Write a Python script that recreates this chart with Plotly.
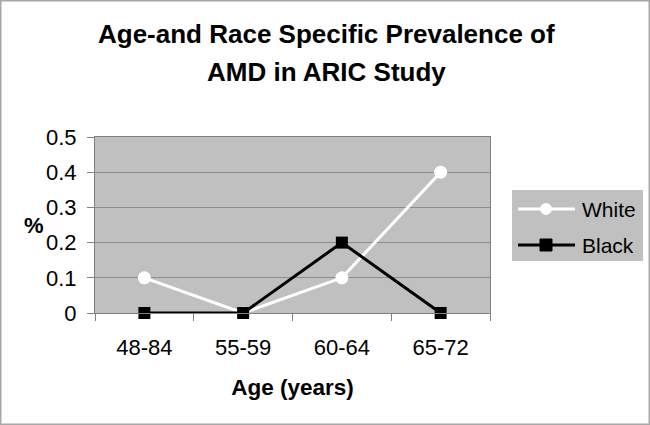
import plotly.graph_objects as go

categories = ["48-84", "55-59", "60-64", "65-72"]
white_values = [0.1, 0.0, 0.1, 0.4]
black_values = [0.0, 0.0, 0.2, 0.0]
series_names = ["White", "Black"]
y_ticks = [0, 0.1, 0.2, 0.3, 0.4, 0.5]
y_tick_labels = ["0", "0.1", "0.2", "0.3", "0.4", "0.5"]
title_lines = ["Age-and Race Specific Prevalence of", "AMD in ARIC Study"]

W, H = 650, 425
L, R, T, B = 95, 160, 137, 112
pw, ph = W - L - R, H - T - B

def px(xp):
    return (xp - L) / pw

def py(yp):
    return (H - B - yp) / ph

font = "Liberation Sans, Arial, sans-serif"

styles = [
    dict(line=dict(color="white", width=3),
         marker=dict(symbol="circle", size=13, color="white")),
    dict(line=dict(color="black", width=3),
         marker=dict(symbol="square", size=12, color="black")),
]

fig = go.Figure()
for name, vals, st in zip(series_names, [white_values, black_values], styles):
    fig.add_trace(go.Scatter(
        x=categories, y=vals, name=name, mode="lines+markers",
        line=st["line"], marker=st["marker"], cliponaxis=False,
        showlegend=False,
    ))

fig.update_layout(
    width=W, height=H,
    margin=dict(l=L, r=R, t=T, b=B),
    paper_bgcolor="white",
    plot_bgcolor="#c0c0c0",
    font=dict(family=font, size=20, color="black"),
    xaxis=dict(
        type="category", range=[-0.5, 3.5],
        showgrid=False, zeroline=False,
        showline=True, linecolor="#808080", linewidth=1, mirror=True,
        ticks="outside", tickson="boundaries", ticklen=7, tickcolor="#808080",
        tickfont=dict(size=22), ticklabelstandoff=15,
        title=dict(text="<b>Age (years)</b>", font=dict(size=22.5), standoff=19),
    ),
    yaxis=dict(
        range=[0, 0.5], tickvals=y_ticks, ticktext=y_tick_labels,
        showgrid=True, gridcolor="#8c8c8c", gridwidth=1, zeroline=False,
        showline=True, linecolor="#808080", linewidth=1, mirror=True,
        ticks="outside", ticklen=7, tickcolor="#808080",
        tickfont=dict(size=22), ticklabelstandoff=6,
    ),
    showlegend=False,
)

# title lines
for i, (txt, yc) in enumerate(zip(title_lines, [34, 71.5])):
    fig.add_annotation(text="<b>%s</b>" % txt, xref="paper", yref="paper",
                       x=px(326), y=py(yc), xanchor="center", yanchor="middle",
                       showarrow=False, font=dict(size=26, family=font))

# y-axis title (horizontal)
fig.add_annotation(text="<b>%</b>", xref="paper", yref="paper",
                   x=px(34), y=py(225), xanchor="center", yanchor="middle",
                   showarrow=False, font=dict(size=22, family=font))

# legend drawn manually
fig.add_shape(type="rect", xref="paper", yref="paper",
              x0=px(512), x1=px(643), y0=py(261), y1=py(190),
              fillcolor="#c0c0c0", line=dict(width=0))
for name, st, yc in zip(series_names, styles, [209, 245]):
    col = st["line"]["color"]
    fig.add_shape(type="line", xref="paper", yref="paper",
                  x0=px(518), x1=px(575), y0=py(yc), y1=py(yc),
                  line=dict(color=col, width=3))
    r = 5.5 if st["marker"]["symbol"] == "circle" else 6
    fig.add_shape(type="circle" if st["marker"]["symbol"] == "circle" else "rect",
                  xref="paper", yref="paper",
                  x0=px(546 - r), x1=px(546 + r), y0=py(yc + r), y1=py(yc - r),
                  fillcolor=col, line=dict(color=col, width=1))
    fig.add_annotation(text=name, xref="paper", yref="paper",
                       x=px(580), y=py(yc), xanchor="left", yanchor="middle",
                       showarrow=False, font=dict(size=21, family=font))

# outer border of the figure
fig.add_shape(type="rect", xref="paper", yref="paper",
              x0=px(0.75), x1=px(W - 0.75), y0=py(H - 0.75), y1=py(0.75),
              line=dict(color="#a8a8a8", width=1.5), layer="below")

fig.write_html("out.html", config={"displayModeBar": False},
               post_script="document.body.style.margin='0px';")
